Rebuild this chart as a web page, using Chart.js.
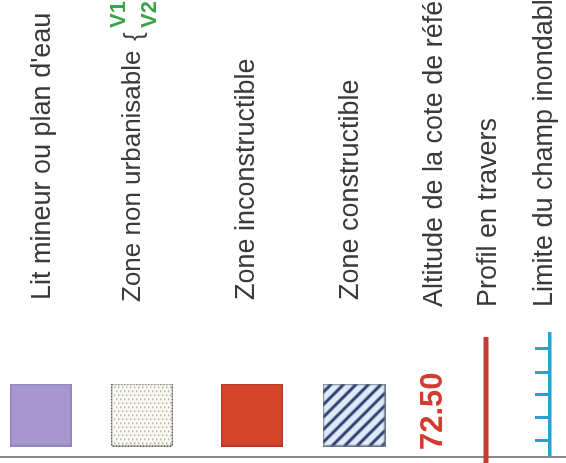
<!DOCTYPE html>
<html>
<head>
<meta charset="utf-8">
<script src="https://cdn.jsdelivr.net/npm/chart.js@4.4.1/dist/chart.umd.min.js"></script>
<style>
  html, body { margin: 0; padding: 0; background: #fff; }
  #c { display: block; }
</style>
</head>
<body>
<canvas id="c" width="566" height="463"></canvas>
<script>
// legend content (map legend, printed sideways)
const legendLabels = [
  "Lit mineur ou plan d'eau",
  'Zone non urbanisable',
  'Zone inconstructible',
  'Zone constructible',
  'Altitude de la cote de référence',
  'Profil en travers',
  'Limite du champ inondable'
];
const legendSymbols = ['lit', 'nonUrb', 'inconstr', 'constr', 'cote', 'profil', 'limite'];
const variantLabels = ['V1', 'V2'];
const coteValue = 72.50;

// layout (page units = px of the 566x463 sheet)
const W = 566, H = 463;
const textX = [40, 131, 244, 348, 432, 486, 542];
const textBottom = [300, 302, 300, 300, 307, 307, 307];
const symbolX = [41, 142, 252, 354, 431, 486, 545];
const symbolY = [415, 415, 415, 415, 411, 400, 394];
const variantX = [117, 148];
const variantBottom = 28;
const baseLineY = 457;
const FONT = 'Liberation Sans, Arial, sans-serif';
const labelSize = 27;

function makeCanvas(w, h) {
  const c = document.createElement('canvas');
  c.width = w; c.height = h;
  return c;
}

function swatch(kind) {
  let c, g;
  switch (kind) {
    case 'lit':
      c = makeCanvas(62, 63); g = c.getContext('2d');
      g.fillStyle = '#a697cf'; g.fillRect(0, 0, 62, 63);
      g.strokeStyle = '#8f83bb'; g.lineWidth = 1.5; g.strokeRect(0.75, 0.75, 60.5, 61.5);
      return c;
    case 'nonUrb':
      c = makeCanvas(62, 63); g = c.getContext('2d');
      g.fillStyle = '#fbfbf3'; g.fillRect(0, 0, 62, 63);
      g.fillStyle = '#9c9c92';
      for (let r = 0, y = 3; y < 61; y += 4, r++) {
        for (let x = (r % 2 ? 5 : 3); x < 60; x += 4) g.fillRect(x, y, 1.4, 1.4);
      }
      g.strokeStyle = '#555'; g.lineWidth = 1.3; g.setLineDash([2, 1]);
      g.strokeRect(0.7, 0.7, 60.6, 61.6);
      return c;
    case 'inconstr':
      c = makeCanvas(62, 63); g = c.getContext('2d');
      g.fillStyle = '#d4452b'; g.fillRect(0, 0, 62, 63);
      g.strokeStyle = '#b23a26'; g.lineWidth = 1.5; g.strokeRect(0.75, 0.75, 60.5, 61.5);
      return c;
    case 'constr':
      c = makeCanvas(63, 63); g = c.getContext('2d');
      g.fillStyle = '#e0ebf8'; g.fillRect(0, 0, 63, 63);
      g.save();
      g.beginPath(); g.rect(0, 0, 63, 63); g.clip();
      g.strokeStyle = '#2a3a6e'; g.lineWidth = 3;
      for (let k = -66; k < 140; k += 12.5) {
        g.beginPath(); g.moveTo(k, 63); g.lineTo(k + 63, 0); g.stroke();
      }
      g.restore();
      g.strokeStyle = '#6b7080'; g.lineWidth = 1.3; g.strokeRect(0.7, 0.7, 61.6, 61.6);
      return c;
    case 'profil':
      c = makeCanvas(6, 126); g = c.getContext('2d');
      g.fillStyle = '#c73a2f'; g.fillRect(0.5, 0, 5, 126);
      return c;
    case 'limite':
      c = makeCanvas(20, 124); g = c.getContext('2d');
      g.fillStyle = '#2b9fcf';
      g.fillRect(13, 0, 3.5, 124);
      [15, 39, 61, 84, 107].forEach(t => g.fillRect(0, t, 14, 3));
      return c;
    default:
      return makeCanvas(1, 1);
  }
}

const styles = legendSymbols.map(swatch);

function vText(ctx, str, cx, bottom, size, weight, color) {
  ctx.save();
  ctx.translate(cx + size * 0.358, bottom);
  ctx.rotate(-Math.PI / 2);
  ctx.font = `${weight} ${size}px ${FONT}`;
  ctx.fillStyle = color;
  ctx.textAlign = 'left';
  ctx.textBaseline = 'alphabetic';
  ctx.fillText(str, 0, 0);
  const w = ctx.measureText(str).width;
  ctx.restore();
  return w;
}

const legendText = {
  id: 'legendText',
  beforeDatasetsDraw(chart) {
    const { ctx, scales: { x, y } } = chart;
    ctx.save();
    ctx.strokeStyle = '#8a8a8a';
    ctx.lineWidth = 2;
    ctx.beginPath();
    ctx.moveTo(x.getPixelForValue(0), y.getPixelForValue(baseLineY));
    ctx.lineTo(x.getPixelForValue(W), y.getPixelForValue(baseLineY));
    ctx.stroke();
    ctx.restore();
  },
  afterDatasetsDraw(chart) {
    const { ctx, scales: { x, y } } = chart;
    legendLabels.forEach((lab, i) => {
      const size = legendSymbols[i] === 'nonUrb' ? 26 : labelSize;
      vText(ctx, lab, x.getPixelForValue(textX[i]), y.getPixelForValue(textBottom[i]),
        size, 'normal', '#3a3a3a');
    });
    // brace + variants after "Zone non urbanisable"
    vText(ctx, '{', x.getPixelForValue(133), y.getPixelForValue(41), 26, 'normal', '#444');
    variantLabels.forEach((v, k) => {
      vText(ctx, v, x.getPixelForValue(variantX[k]), y.getPixelForValue(variantBottom), 22, 'bold', '#3aa548');
    });
    const ci = legendSymbols.indexOf('cote');
    vText(ctx, coteValue.toFixed(2), x.getPixelForValue(symbolX[ci]), y.getPixelForValue(450),
      31, 'bold', '#d23c2f');
  }
};

new Chart(document.getElementById('c'), {
  type: 'scatter',
  data: {
    datasets: [{
      label: 'symboles',
      data: legendSymbols.map((s, i) => ({ x: symbolX[i], y: symbolY[i] })),
      pointStyle: styles,
      pointRadius: legendSymbols.map(s => (s === 'cote' ? 0 : 10)),
      backgroundColor: 'transparent',
      borderColor: 'transparent',
      clip: false
    }]
  },
  options: {
    responsive: false,
    animation: false,
    events: [],
    layout: { padding: 0, autoPadding: false },
    plugins: { legend: { display: false }, tooltip: { enabled: false } },
    scales: {
      x: { type: 'linear', min: 0, max: W, display: false },
      y: { type: 'linear', min: 0, max: H, reverse: true, display: false }
    }
  },
  plugins: [legendText]
});
</script>
</body>
</html>
